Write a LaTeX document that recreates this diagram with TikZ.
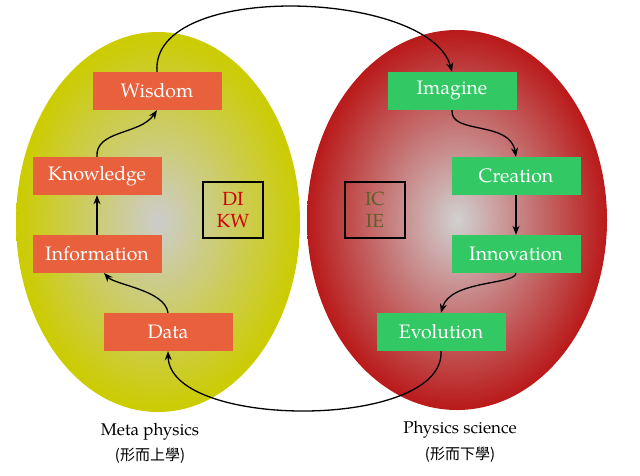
\documentclass[tikz,border=0pt]{standalone}
\usepackage{fontspec}
\setmainfont{TeX Gyre Pagella}[Extension=.otf,UprightFont=texgyrepagella-regular]
\newfontfamily\cjk{Noto Sans CJK TC}
\usetikzlibrary{arrows.meta}
\begin{document}
\begin{tikzpicture}[x=1pt,y=-1pt,
  rbox/.style={fill={rgb,255:red,232;green,96;blue,60},text=white,minimum width=129pt,minimum height=38pt,font=\fontsize{19.5}{22}\selectfont,inner sep=0pt},
  gbox/.style={fill={rgb,255:red,50;green,200;blue,100},text=white,minimum width=129pt,minimum height=38pt,font=\fontsize{19.5}{22}\selectfont,inner sep=0pt},
  mbox/.style={draw=black,line width=1.2pt,minimum width=60pt,minimum height=56pt,align=center,font=\fontsize{19}{22}\selectfont,inner sep=0pt},
  arr/.style={-{Stealth[length=9pt,width=7pt]},line width=1.3pt},
  lab/.style={font=\fontsize{17}{20}\selectfont,align=center}]
\useasboundingbox (0,0) rectangle (640,475);
\shade[inner color=gray!40,outer color=yellow!60!olive] (158,222) ellipse [x radius=142pt,y radius=190pt];
\shade[inner color=gray!40,outer color=red!70!black,opacity=0.9] (457,220) ellipse [x radius=150pt,y radius=190pt];
\node[rbox] (wis) at (157,91) {Wisdom};
\node[rbox] (kno) at (97,176) {Knowledge};
\node[rbox] (inf) at (97,254) {Information};
\node[rbox] (dat) at (168,332) {Data};
\node[gbox] (ima) at (452,91) {Imagine};
\node[gbox] (cre) at (516,176) {Creation};
\node[gbox] (inn) at (516,254) {Innovation};
\node[gbox] (evo) at (441,332) {Evolution};
\node[mbox,text=red!80!black] (dikw) at (233,210) {DI\\KW};
\node[mbox,text=olive!60!black] (icie) at (375,210) {IC\\IE};
\draw[arr] (dat.north) .. controls (165,290) and (115,285) .. (104,273);
\draw[arr] (inf.north) -- (kno.south);
\draw[arr] (kno.north) .. controls (95,130) and (140,135) .. (wis.south);
\draw[arr] (wis.north) .. controls (150,-20) and (430,-10) .. (ima.north);
\draw[arr] (ima.south) .. controls (450,135) and (510,120) .. (cre.north);
\draw[arr] (cre.south) -- (inn.north);
\draw[arr] (inn.south) .. controls (515,285) and (450,280) .. (evo.north);
\draw[arr] (evo.south) .. controls (445,430) and (170,430) .. (dat.south);
\node[lab] (m1) at (150,432) {Meta physics};
\node[lab] (m2) at (150,456) {\cjk\fontsize{15}{17}\selectfont (形而上學)};
\node[lab] (p1) at (460,430) {Physics science};
\node[lab] (p2) at (460,455) {\cjk\fontsize{15}{17}\selectfont (形而下學)};
\end{tikzpicture}
\end{document}
